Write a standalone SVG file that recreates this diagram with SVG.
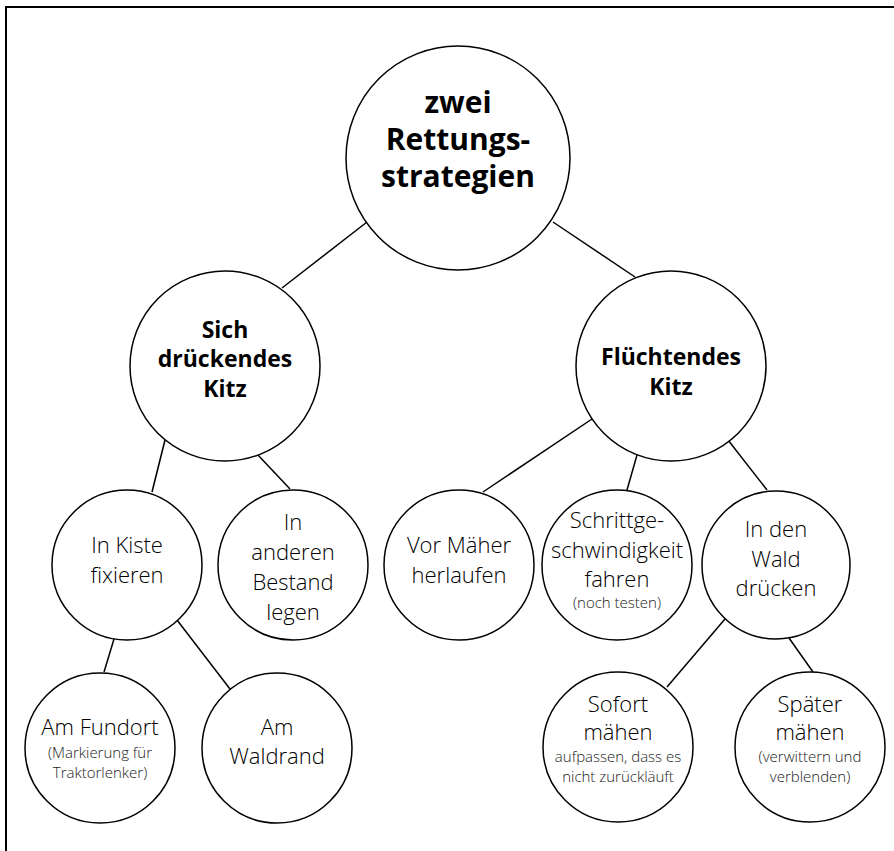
<svg xmlns="http://www.w3.org/2000/svg" width="894" height="851" viewBox="0 0 894 851">
<style>
.node circle{fill:#fff;stroke:#000;stroke-width:1.5}
text{font-family:"Open Sans","Noto Sans","Liberation Sans",sans-serif;text-anchor:middle;fill:#000}
.b30{font-size:30px;font-weight:bold}
.b23{font-size:23px;font-weight:bold}
.r22{font-size:22px;font-weight:300}
.s15{font-size:15px;font-weight:300;fill:#222}
#edges line{stroke:#000;stroke-width:1.5}
</style>
<rect width="894" height="851" fill="#fff"/>
<path d="M6 851V7H894" fill="none" stroke="#000" stroke-width="2"/>
<g id="edges">
<line x1="367" y1="222" x2="282" y2="288"/>
<line x1="553" y1="222" x2="635" y2="277"/>
<line x1="165" y1="440" x2="152" y2="492"/>
<line x1="257" y1="454" x2="290" y2="489"/>
<line x1="592" y1="419" x2="483" y2="492"/>
<line x1="637" y1="455" x2="627" y2="490"/>
<line x1="728" y1="440" x2="767" y2="490"/>
<line x1="114" y1="639" x2="104" y2="672"/>
<line x1="177" y1="620" x2="230" y2="689"/>
<line x1="725" y1="619" x2="667" y2="687"/>
<line x1="789" y1="638" x2="813" y2="672"/>
</g>
<g id="root" class="node">
<circle cx="458" cy="158" r="112"/>
<text class="b30" x="458" y="113">zwei</text>
<text class="b30" x="458" y="150">Rettungs-</text>
<text class="b30" x="458" y="187">strategien</text>
</g>
<g id="sich" class="node">
<circle cx="225" cy="366" r="95"/>
<text class="b23" x="225" y="338">Sich</text>
<text class="b23" x="225" y="367">drückendes</text>
<text class="b23" x="225" y="397">Kitz</text>
</g>
<g id="fluecht" class="node">
<circle cx="671" cy="366" r="95"/>
<text class="b23" x="671" y="365">Flüchtendes</text>
<text class="b23" x="671" y="395">Kitz</text>
</g>
<g id="kiste" class="node">
<circle cx="127" cy="565" r="75"/>
<text class="r22" x="127" y="553">In Kiste</text>
<text class="r22" x="127" y="583">fixieren</text>
</g>
<g id="bestand" class="node">
<circle cx="293" cy="565" r="75"/>
<text class="r22" x="293" y="530">In</text>
<text class="r22" x="293" y="560">anderen</text>
<text class="r22" x="293" y="590">Bestand</text>
<text class="r22" x="293" y="620">legen</text>
</g>
<g id="vor" class="node">
<circle cx="459" cy="565" r="75"/>
<text class="r22" x="459" y="553">Vor Mäher</text>
<text class="r22" x="459" y="583">herlaufen</text>
</g>
<g id="schritt" class="node">
<circle cx="617" cy="565" r="75"/>
<text class="r22" x="617" y="528">Schrittge-</text>
<text class="r22" x="617" y="558">schwindigkeit</text>
<text class="r22" x="617" y="587">fahren</text>
<text class="s15" x="617" y="608">(noch testen)</text>
</g>
<g id="wald" class="node">
<circle cx="776" cy="565" r="74"/>
<text class="r22" x="776" y="537">In den</text>
<text class="r22" x="776" y="567">Wald</text>
<text class="r22" x="776" y="596">drücken</text>
</g>
<g id="fundort" class="node">
<circle cx="100" cy="748" r="75"/>
<text class="r22" x="100" y="735">Am Fundort</text>
<text class="s15" x="100" y="758">(Markierung für</text>
<text class="s15" x="100" y="778">Traktorlenker)</text>
</g>
<g id="waldrand" class="node">
<circle cx="277" cy="748" r="75"/>
<text class="r22" x="277" y="735">Am</text>
<text class="r22" x="277" y="764">Waldrand</text>
</g>
<g id="sofort" class="node">
<circle cx="618" cy="747" r="75"/>
<text class="r22" x="618" y="712">Sofort</text>
<text class="r22" x="618" y="740">mähen</text>
<text class="s15" x="618" y="762">aufpassen, dass es</text>
<text class="s15" x="618" y="782">nicht zurückläuft</text>
</g>
<g id="spaeter" class="node">
<circle cx="810" cy="747" r="75"/>
<text class="r22" x="810" y="712">Später</text>
<text class="r22" x="810" y="740">mähen</text>
<text class="s15" x="810" y="762">(verwittern und</text>
<text class="s15" x="810" y="782">verblenden)</text>
</g>
</svg>
